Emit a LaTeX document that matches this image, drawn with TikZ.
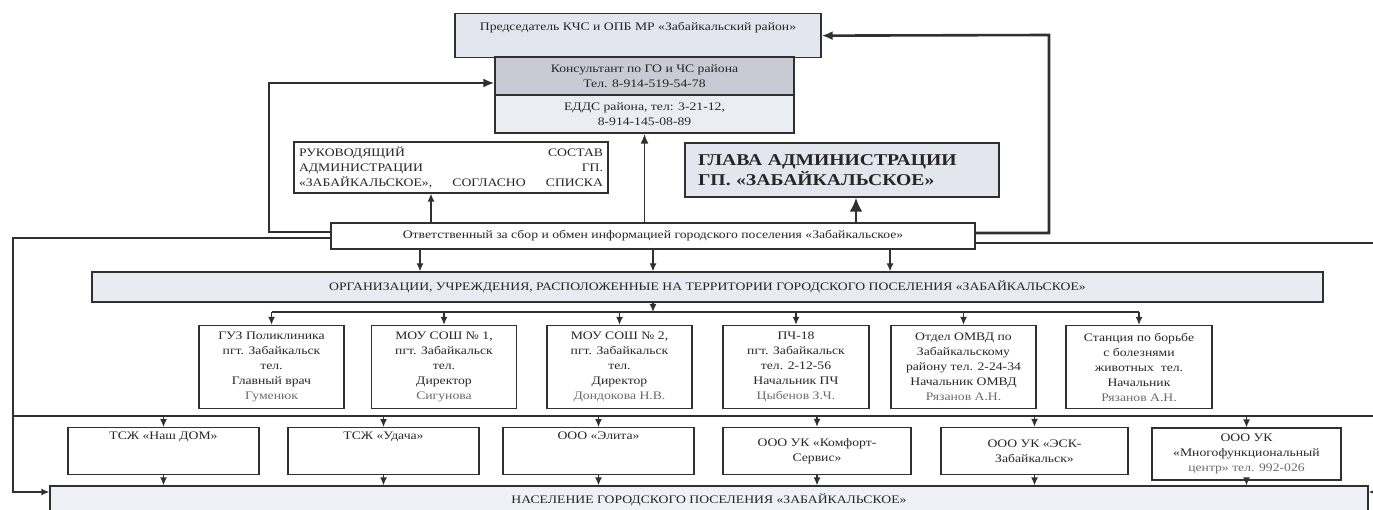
\documentclass[tikz,border=0pt]{standalone}
\usepackage{fontspec}
\setmainfont{Liberation Serif}[FakeStretch=1.19]
\usetikzlibrary{arrows.meta}
\definecolor{boxline}{HTML}{303030}
\definecolor{lilac}{HTML}{E3E5EF}
\definecolor{lilacdark}{HTML}{C9CAD4}
\definecolor{faint}{HTML}{6A6A6A}
\newcommand{\jline}[1]{\makebox[304pt][s]{#1}}
\begin{document}
\begin{tikzpicture}[x=1pt,y=-1pt,
    box/.style={draw=boxline,line width=1.3pt,inner sep=0pt,align=center,
      font=\fontsize{11.5}{15}\selectfont,text=black!85},
    wire/.style={draw=boxline,line width=1.3pt},
    tip/.style={-{Latex[length=8pt,width=7pt]}},
    fat/.style={draw=boxline,line width=2.6pt,-{Latex[length=11pt,width=9pt]}}]
    \useasboundingbox (0,0) rectangle (1373,510);

    \node (pred) [box,fill=lilac,anchor=north,minimum width=366pt,text height=17pt,text depth=27pt] at (638,13) {Председатель КЧС и ОПБ МР «Забайкальский район»};
    \node (kons) [box,fill=lilacdark,minimum width=299pt,minimum height=38pt] at (644.5,76) {Консультант по ГО и ЧС района\\Тел. 8-914-519-54-78};
    \node (edds) [box,fill=lilac!70,minimum width=299pt,minimum height=38pt] at (644.5,114) {ЕДДС района, тел: 3-21-12,\\8-914-145-08-89};
    \node (ruk) [box,minimum width=314pt,minimum height=51pt,align=left] at (451,167.5) {\jline{РУКОВОДЯЩИЙ СОСТАВ}\\\jline{АДМИНИСТРАЦИИ ГП.}\\\jline{«ЗАБАЙКАЛЬСКОЕ», СОГЛАСНО СПИСКА}};
    \node (glava) [box,fill=lilac,minimum width=314pt,minimum height=54pt,text width=288pt,align=left,font=\fontsize{16.5}{20}\selectfont\bfseries] at (842,170) {ГЛАВА АДМИНИСТРАЦИИ\\ГП. «ЗАБАЙКАЛЬСКОЕ»};
    \node (otv) [box,fill=white,minimum width=644pt,minimum height=26pt] at (653,236) {Ответственный за сбор и обмен информацией городского поселения «Забайкальское»};
    \node (org) [box,fill=lilac!80,minimum width=1231pt,minimum height=30pt] at (707.5,287) {ОРГАНИЗАЦИИ, УЧРЕЖДЕНИЯ, РАСПОЛОЖЕННЫЕ НА ТЕРРИТОРИИ ГОРОДСКОГО ПОСЕЛЕНИЯ «ЗАБАЙКАЛЬСКОЕ»};

    % organizations
    \node (b1) [box,minimum width=145pt,minimum height=83pt] at (271.5,367) {ГУЗ Поликлиника\\пгт. Забайкальск\\тел.\\Главный врач\\\textcolor{faint}{Гуменюк}};
    \node (b2) [box,minimum width=145pt,minimum height=83pt] at (444,367) {МОУ СОШ № 1,\\пгт. Забайкальск\\тел.\\Директор\\\textcolor{faint}{Сигунова}};
    \node (b3) [box,minimum width=145pt,minimum height=83pt] at (619.5,367) {МОУ СОШ № 2,\\пгт. Забайкальск\\тел.\\Директор\\\textcolor{faint}{Дондокова Н.В.}};
    \node (b4) [box,minimum width=146pt,minimum height=83pt] at (796,367) {ПЧ-18\\пгт. Забайкальск\\тел. 2-12-56\\Начальник ПЧ\\\textcolor{faint}{Цыбенов З.Ч.}};
    \node (b5) [box,minimum width=145pt,minimum height=83pt] at (963.5,367) {Отдел ОМВД по\\Забайкальскому\\району тел. 2-24-34\\Начальник ОМВД\\\textcolor{faint}{Рязанов А.Н.}};
    \node (b6) [box,minimum width=146pt,minimum height=83pt] at (1139,367) {Станция по борьбе\\с болезнями\\животных\ \ тел.\\Начальник\\\textcolor{faint}{Рязанов А.Н.}};

    % housing
    \node (c1) [box,anchor=north,minimum width=191pt,text height=12pt,text depth=35pt] at (163.5,427) {ТСЖ «Наш ДОМ»};
    \node (c2) [box,anchor=north,minimum width=191pt,text height=12pt,text depth=35pt] at (383.5,427) {ТСЖ «Удача»};
    \node (c3) [box,anchor=north,minimum width=191pt,text height=12pt,text depth=35pt] at (598.5,427) {ООО «Элита»};
    \node (c4) [box,minimum width=188pt,minimum height=47pt] at (817,451) {ООО УК «Комфорт-\\Сервис»};
    \node (c5) [box,minimum width=187pt,minimum height=47pt] at (1034.5,451) {ООО УК «ЭСК-\\Забайкальск»};
    \node (c6) [box,minimum width=189pt,minimum height=52pt] at (1246.5,454) {ООО УК\\«Многофункциональный\\\textcolor{faint}{центр» тел. 992-026}};

    \node (nas) [box,fill=lilac!55,minimum width=1318pt,minimum height=28pt] at (709,500) {НАСЕЛЕНИЕ ГОРОДСКОГО ПОСЕЛЕНИЯ «ЗАБАЙКАЛЬСКОЕ»};

    \coordinate (lt) at (269,83);
    \coordinate (rt) at (1049,35);
    \coordinate (lb) at (13,492);
    \coordinate (rb) at (1375,492);
    \coordinate (d) at (0,312);
    \coordinate (bl) at (13,416);
    \coordinate (br) at (1375,416);

    \draw[fat] ([yshift=4pt]otv.west) -| (lt) -- ([yshift=-7pt]kons.west);
    \draw[fat] ([yshift=3pt]otv.east) -| (rt) -- (pred.east);
    \draw[fat,-{Latex[length=14pt,width=13pt]}] ([xshift=14pt]glava.south |- otv.north) -- ([xshift=14pt]glava.south);
    \draw[wire,line width=1.9pt,-{Latex[length=10pt,width=8pt]}] (edds.south |- otv.north) -- (edds.south);
    \draw[wire,tip] ([xshift=-20pt]ruk.south |- otv.north) -- ([xshift=-20pt]ruk.south);

    \draw[wire,tip] ([yshift=-2pt]otv.west) -| (lb) -- ([yshift=8pt]nas.west);
    \draw[wire,tip] ([yshift=-7pt]otv.east) -| (rb) -- ([yshift=8pt]nas.east);

    \path[tip] ([xshift=-233pt]otv.south) edge[wire] ([xshift=-233pt]otv.south |- org.north);
    \path[tip] (otv.south) edge[wire] (otv.south |- org.north);
    \path[tip] ([xshift=237pt]otv.south) edge[wire] ([xshift=237pt]otv.south |- org.north);
    \path[tip] (otv.south |- org.south) edge[wire] (otv.south |- d);

    \draw[wire] (b1.north |- d) -- (b6.north |- d);
    \path[tip] (b1.north |- d) edge[wire] (b1);
    \path[tip] (b2.north |- d) edge[wire] (b2);
    \path[tip] (b3.north |- d) edge[wire] (b3);
    \path[tip] (b4.north |- d) edge[wire] (b4);
    \path[tip] (b5.north |- d) edge[wire] (b5);
    \path[tip] (b6.north |- d) edge[wire] (b6);

    \draw[wire] (bl) -- (br);
    \path[tip] (c1.north |- bl) edge[wire] (c1);
    \path[tip] (c2.north |- bl) edge[wire] (c2);
    \path[tip] (c3.north |- bl) edge[wire] (c3);
    \path[tip] (c4.north |- bl) edge[wire] (c4);
    \path[tip] (c5.north |- bl) edge[wire] (c5);
    \path[tip] (c6.north |- bl) edge[wire] (c6);

    \path[tip] (c1.south) edge[wire] (c1.south |- nas.north);
    \path[tip] (c2.south) edge[wire] (c2.south |- nas.north);
    \path[tip] (c3.south) edge[wire] (c3.south |- nas.north);
    \path[tip] (c4.south) edge[wire] (c4.south |- nas.north);
    \path[tip] (c5.south) edge[wire] (c5.south |- nas.north);
    \path[tip] (c6.south) edge[wire] (c6.south |- nas.north);
  \end{tikzpicture}
\end{document}
